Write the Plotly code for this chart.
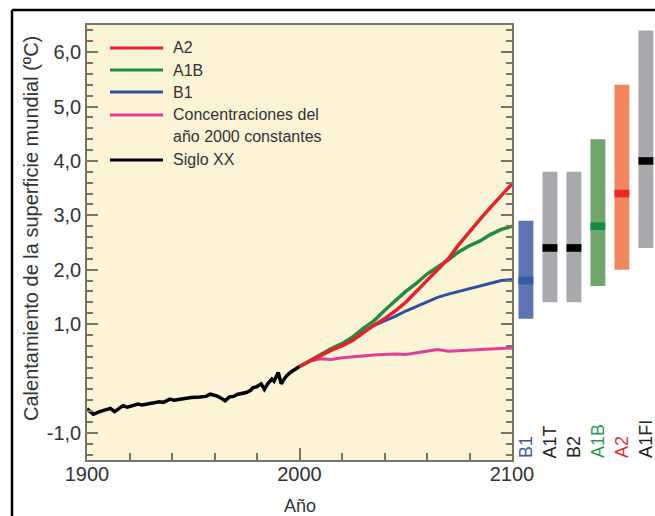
import plotly.graph_objects as go

# ---------------- data ----------------
hist_years = [1900, 1903, 1906, 1908, 1911, 1913, 1917, 1919, 1921, 1924, 1926, 1929,
              1931, 1934, 1936, 1939, 1941, 1944, 1946, 1949, 1953, 1956, 1958, 1961,
              1963, 1965, 1967, 1969, 1971, 1973, 1975, 1977, 1978, 1980, 1982, 1983.5,
              1985, 1987, 1988, 1990, 1991.4, 1993, 1994, 1996, 1998, 2000]
hist_vals = [-0.56, -0.66, -0.61, -0.58, -0.55, -0.61, -0.50, -0.53, -0.50, -0.47, -0.49, -0.47,
             -0.45, -0.43, -0.44, -0.38, -0.40, -0.38, -0.37, -0.35, -0.34, -0.33, -0.29, -0.32,
             -0.36, -0.41, -0.34, -0.33, -0.29, -0.28, -0.26, -0.22, -0.17, -0.15, -0.10, -0.20,
             -0.10, -0.01, -0.05, 0.11, -0.10, 0.00, 0.05, 0.12, 0.17, 0.22]

proj_years = [2000, 2005, 2010, 2015, 2020, 2025, 2030, 2035, 2040, 2045, 2050,
              2055, 2060, 2065, 2070, 2075, 2080, 2085, 2090, 2095, 2100]
a2_vals = [0.22, 0.32, 0.42, 0.52, 0.60, 0.70, 0.84, 0.98, 1.10, 1.24, 1.40,
           1.60, 1.80, 1.99, 2.20, 2.46, 2.70, 2.93, 3.15, 3.36, 3.58]
a1b_vals = [0.22, 0.33, 0.44, 0.55, 0.64, 0.76, 0.92, 1.06, 1.25, 1.43, 1.60,
            1.75, 1.92, 2.05, 2.18, 2.33, 2.44, 2.53, 2.65, 2.74, 2.80]
b1_vals = [0.22, 0.33, 0.43, 0.53, 0.62, 0.72, 0.86, 0.97, 1.06, 1.14, 1.24,
           1.32, 1.41, 1.49, 1.55, 1.60, 1.66, 1.71, 1.75, 1.80, 1.82]
const_vals = [0.22, 0.32, 0.36, 0.35, 0.38, 0.40, 0.42, 0.43, 0.44, 0.45, 0.44,
              0.47, 0.50, 0.53, 0.50, 0.51, 0.52, 0.53, 0.54, 0.55, 0.56]

scenarios = ["B1", "A1T", "B2", "A1B", "A2", "A1FI"]
range_low = [1.1, 1.4, 1.4, 1.7, 2.0, 2.4]
range_high = [2.9, 3.8, 3.8, 4.4, 5.4, 6.4]
best_est = [1.8, 2.4, 2.4, 2.8, 3.4, 4.0]

y_tick_vals = [-1, 1, 2, 3, 4, 5, 6]
y_tick_text = ["-1,0", "1,0", "2,0", "3,0", "4,0", "5,0", "6,0"]
x_tick_vals = [1900, 2000, 2100]
x_tick_text = ["1900", "2000", "2100"]

legend_names = ["A2", "A1B", "B1", "Concentraciones del", "Siglo XX"]

# ---------------- styles ----------------
RED = "#e8212b"
GREEN = "#1f8c3e"
BLUE = "#2f4fa2"
PINK = "#e03f98"
BLACK = "#000000"
bar_colors = ["#5f72b3", "#a9a9ad", "#a9a9ad", "#70a56b", "#f0875f", "#a9a9ad"]
mid_colors = ["#3558a8", "#000000", "#000000", "#13894a", "#e82a2e", "#000000"]
label_colors = ["#3f57a6", "#222222", "#222222", "#2f9a55", "#e8303a", "#222222"]
TXT = "#333333"
AX = "#7a7466"
FONT = "Liberation Sans, Arial, sans-serif"

W, H = 655, 516
ML, MR, MT, MB = 87, 0, 25, 56
PW, PH = W - ML - MR, H - MT - MB


def px(x):
    return (x - ML) / PW


def py(y):
    return (H - MB - y) / PH


main_right = px(512)

fig = go.Figure()

fig.add_trace(go.Scatter(x=hist_years, y=hist_vals, mode="lines",
                         line=dict(color=BLACK, width=3.5), name="Siglo XX", showlegend=False))
fig.add_trace(go.Scatter(x=proj_years, y=const_vals, mode="lines",
                         line=dict(color=PINK, width=3), name="Concentraciones", showlegend=False))
fig.add_trace(go.Scatter(x=proj_years, y=b1_vals, mode="lines",
                         line=dict(color=BLUE, width=3), name="B1", showlegend=False))
fig.add_trace(go.Scatter(x=proj_years, y=a1b_vals, mode="lines",
                         line=dict(color=GREEN, width=3.5), name="A1B", showlegend=False))
fig.add_trace(go.Scatter(x=proj_years, y=a2_vals, mode="lines",
                         line=dict(color=RED, width=3.5), name="A2", showlegend=False))

# likely-range bars
fig.add_trace(go.Bar(x=scenarios, y=[h - l for h, l in zip(range_high, range_low)],
                     base=range_low, marker=dict(color=bar_colors, line=dict(width=0)),
                     width=0.62, xaxis="x2", yaxis="y2", showlegend=False))
mid_h = 0.14
fig.add_trace(go.Bar(x=scenarios, y=[mid_h] * len(best_est),
                     base=[b - mid_h / 2 for b in best_est],
                     marker=dict(color=mid_colors, line=dict(width=0)),
                     width=0.62, xaxis="x2", yaxis="y2", showlegend=False))

shapes = []
# cream plot background
shapes.append(dict(type="rect", xref="paper", yref="paper", x0=0, x1=main_right, y0=0, y1=1,
                   fillcolor="#fcf4d6", line=dict(width=0), layer="below"))
# outer frame (top and left)
shapes.append(dict(type="line", xref="paper", yref="paper", x0=px(12), x1=1,
                   y0=py(10), y1=py(10), line=dict(color="black", width=2.5)))
shapes.append(dict(type="line", xref="paper", yref="paper", x0=px(12), x1=px(12),
                   y0=py(10), y1=py(H), line=dict(color="black", width=2.5)))

annotations = []
# custom legend
leg_colors = [RED, GREEN, BLUE, PINK, BLACK]
leg_y = [48, 70, 92, 115, 160]
for name, col, yy in zip(legend_names, leg_colors, leg_y):
    shapes.append(dict(type="line", xref="paper", yref="paper", x0=px(110), x1=px(163),
                       y0=py(yy), y1=py(yy), line=dict(color=col, width=3)))
    annotations.append(dict(text=name, xref="paper", yref="paper", x=px(171), y=py(yy),
                            xanchor="left", yanchor="middle", showarrow=False,
                            font=dict(family=FONT, size=16, color=TXT)))
annotations.append(dict(text="año 2000 constantes", xref="paper", yref="paper", x=px(171),
                        y=py(136), xanchor="left", yanchor="middle", showarrow=False,
                        font=dict(family=FONT, size=16, color=TXT)))

# scenario labels (rotated)
for s, c in zip(scenarios, label_colors):
    annotations.append(dict(text=s, xref="x2", yref="paper", x=s, y=py(459),
                            xanchor="center", yanchor="bottom", textangle=-90,
                            showarrow=False, borderpad=0,
                            font=dict(family=FONT, size=18, color=c)))

# axis titles
annotations.append(dict(text="Calentamiento de la superficie mundial (ºC)", xref="paper",
                        yref="paper", x=px(31), y=py(229), textangle=-90, showarrow=False,
                        xanchor="center", yanchor="middle",
                        font=dict(family=FONT, size=20, color=TXT)))
annotations.append(dict(text="Año", xref="paper", yref="paper", x=px(300), y=py(506),
                        xanchor="center", yanchor="middle", showarrow=False,
                        font=dict(family=FONT, size=18, color=TXT)))

fig.update_layout(
    width=W, height=H, autosize=False,
    margin=dict(l=ML, r=MR, t=MT, b=MB, pad=0, autoexpand=False),
    paper_bgcolor="white", plot_bgcolor="rgba(0,0,0,0)",
    barmode="overlay",
    showlegend=False,
    shapes=shapes, annotations=annotations,
    xaxis=dict(domain=[0, main_right], range=[1900, 2100], tickvals=x_tick_vals,
               ticktext=x_tick_text, ticks="inside", ticklen=12, tickwidth=1.5, tickcolor=AX,
               showline=True, linecolor=AX, linewidth=1.5, mirror=True, showgrid=False,
               zeroline=False, tickfont=dict(family=FONT, size=20, color=TXT),
               ticklabelstandoff=-5, automargin=False,
               minor=dict(dtick=20, tick0=1900, ticks="inside", ticklen=7, tickwidth=1.5,
                          tickcolor=AX, showgrid=False)),
    yaxis=dict(range=[-1.5, 6.5], tickvals=y_tick_vals, ticktext=y_tick_text,
               ticks="inside", ticklen=11, tickwidth=1.5, tickcolor=AX,
               showline=True, linecolor=AX, linewidth=1.5, mirror="allticks",
               showgrid=False, zeroline=False, tickfont=dict(family=FONT, size=20, color=TXT),
               ticklabelstandoff=0, automargin=False,
               minor=dict(dtick=0.2, tick0=0, ticks="inside", ticklen=6, tickwidth=1.5,
                          tickcolor=AX, showgrid=False)),
    xaxis2=dict(domain=[main_right, 1], anchor="y2", type="category",
                range=[-0.58, 5.38], visible=False, automargin=False),
    yaxis2=dict(anchor="x2", range=[-1.5, 6.5], visible=False, automargin=False),
)

fig.write_html("out.html", config={"responsive": False})
